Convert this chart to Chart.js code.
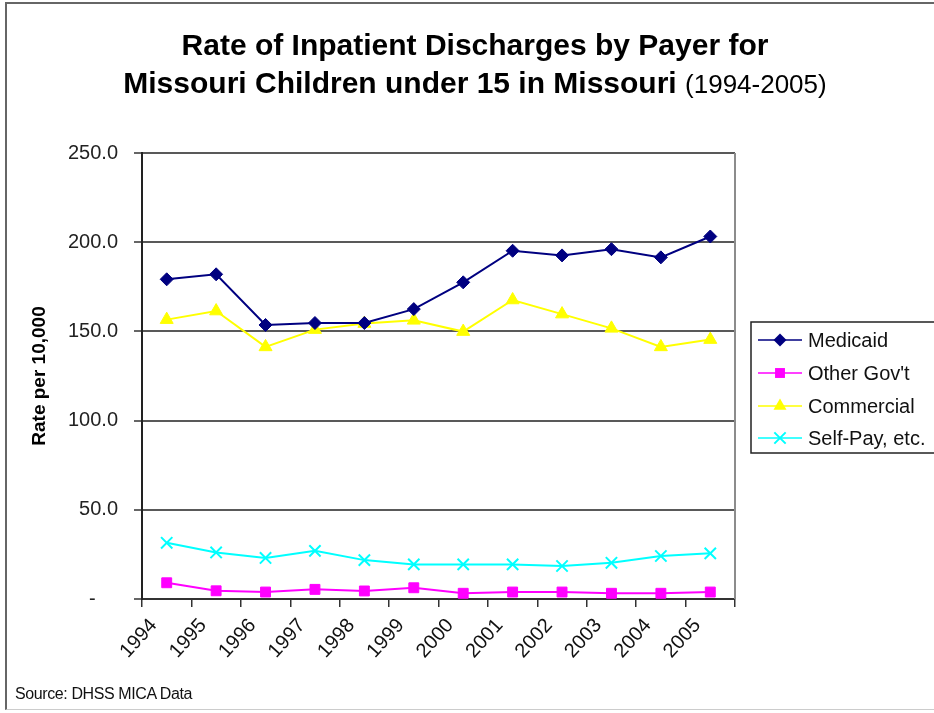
<!DOCTYPE html>
<html>
<head>
<meta charset="utf-8">
<script src="https://cdn.jsdelivr.net/npm/chart.js@4.4.0/dist/chart.umd.min.js"></script>
<style>
  html, body { margin: 0; padding: 0; background: #fff; }
  body { width: 934px; height: 713px; position: relative; overflow: hidden; font-family: "Liberation Sans", Arial, sans-serif; }
  #frame { position: absolute; left: 5px; top: 2px; width: 960px; height: 708px; border-left: 2px solid #666; border-top: 2px solid #666; border-bottom: 1px solid #ccc; box-sizing: border-box; }
  #title { position: absolute; left: 0; top: 26px; width: 950px; text-align: center; color: #000; font-weight: bold; font-size: 30px; line-height: 38px; }
  #title .sub { font-weight: normal; font-size: 26px; }
  #source { position: absolute; left: 15px; top: 685px; font-size: 16px; color: #111; letter-spacing: -0.4px; }
  #wrap { position: absolute; left: 0; top: 0; width: 934px; height: 713px; }
</style>
</head>
<body>
<div id="frame"></div>
<div id="wrap"><canvas id="c" width="934" height="713"></canvas></div>
<div id="title">Rate of Inpatient Discharges by Payer for<br>Missouri Children under 15 in Missouri <span class="sub">(1994-2005)</span></div>
<div id="source">Source: DHSS MICA Data</div>
<script>
const years = ['1994','1995','1996','1997','1998','1999','2000','2001','2002','2003','2004','2005'];
const medicaid   = [179.2, 182.0, 153.6, 154.7, 154.7, 162.5, 177.5, 195.2, 192.6, 196.1, 191.5, 203.2];
const otherGovt  = [9.1, 4.6, 3.9, 5.4, 4.5, 6.3, 3.2, 3.9, 3.9, 3.2, 3.2, 3.9];
const commercial = [156.6, 161.4, 141.3, 151.0, 154.4, 156.2, 149.9, 167.6, 159.7, 151.7, 141.3, 145.4];
const selfPay    = [31.5, 26.1, 23.0, 27.0, 21.8, 19.4, 19.4, 19.4, 18.5, 20.3, 24.1, 25.6];
const seriesNames = ['Medicaid', 'Other Gov\'t', 'Commercial', 'Self-Pay, etc.'];
const yTickLabels = ['-    ', '50.0', '100.0', '150.0', '200.0', '250.0'];
const yAxisTitle = 'Rate per 10,000';

const FONT = '"Liberation Sans", Arial, sans-serif';

function drawMarker(ctx, style, x, y, r, color) {
  ctx.save();
  ctx.fillStyle = color; ctx.strokeStyle = color; ctx.lineWidth = 2;
  ctx.beginPath();
  if (style === 'rectRot') {
    ctx.moveTo(x, y - r); ctx.lineTo(x + r, y); ctx.lineTo(x, y + r); ctx.lineTo(x - r, y); ctx.closePath(); ctx.fill();
  } else if (style === 'rect') {
    const s = r * Math.SQRT1_2; ctx.rect(x - s, y - s, 2 * s, 2 * s); ctx.fill();
  } else if (style === 'triangle') {
    ctx.moveTo(x, y - r); ctx.lineTo(x + r * 0.866, y + r * 0.5); ctx.lineTo(x - r * 0.866, y + r * 0.5); ctx.closePath(); ctx.fill();
  } else if (style === 'crossRot') {
    const d = r * Math.SQRT1_2;
    ctx.moveTo(x - d, y - d); ctx.lineTo(x + d, y + d); ctx.moveTo(x + d, y - d); ctx.lineTo(x - d, y + d); ctx.stroke();
  }
  ctx.restore();
}

const framePlugin = {
  id: 'framePlugin',
  afterDraw(chart) {
    const ctx = chart.ctx, a = chart.chartArea;
    ctx.save();
    ctx.strokeStyle = '#8c8c8c'; ctx.lineWidth = 2;
    ctx.beginPath(); ctx.moveTo(a.right, a.top); ctx.lineTo(a.right, a.bottom); ctx.stroke();
    const lx = 751, ly = 322, lw = 190, lh = 131;
    ctx.fillStyle = '#fff'; ctx.fillRect(lx, ly, lw, lh);
    ctx.strokeStyle = '#222'; ctx.lineWidth = 1.5;
    ctx.strokeRect(lx, ly, lw, lh);
    ctx.font = '20px ' + FONT; ctx.textBaseline = 'middle'; ctx.textAlign = 'left';
    const rowY = [340, 373, 406, 438];
    chart.data.datasets.forEach((ds, i) => {
      const y = rowY[i];
      ctx.strokeStyle = ds.borderColor; ctx.lineWidth = 1.5;
      ctx.beginPath(); ctx.moveTo(758, y); ctx.lineTo(802, y); ctx.stroke();
      drawMarker(ctx, ds.pointStyle, 780, y, ds.pointRadius, ds.pointBackgroundColor);
      ctx.fillStyle = '#111';
      ctx.fillText(ds.label, 808, y + 1);
    });
    ctx.restore();
  }
};

function mk(label, data, color, style, radius) {
  return {
    label, data,
    borderColor: color, backgroundColor: color,
    pointBackgroundColor: color, pointBorderColor: color,
    pointStyle: style, pointRadius: radius, pointHoverRadius: radius,
    pointBorderWidth: style === 'crossRot' ? 2 : 1,
    borderWidth: 2, tension: 0, fill: false
  };
}

new Chart(document.getElementById('c'), {
  type: 'line',
  data: {
    labels: years,
    datasets: [
      mk(seriesNames[0], medicaid, '#000080', 'rectRot', 6.5),
      mk(seriesNames[1], otherGovt, '#FF00FF', 'rect', 7),
      mk(seriesNames[2], commercial, '#FFFF00', 'triangle', 7.5),
      mk(seriesNames[3], selfPay, '#00FFFF', 'crossRot', 8)
    ]
  },
  options: {
    responsive: false,
    animation: false,
    devicePixelRatio: 1,
    layout: { padding: { left: 24, top: 153, right: 199, bottom: 0 } },
    plugins: { legend: { display: false }, tooltip: { enabled: false }, title: { display: false } },
    scales: {
      x: {
        type: 'category',
        offset: true,
        grid: { offset: true, drawOnChartArea: false, drawTicks: true, tickLength: 8, color: '#333', lineWidth: 1.5 },
        border: { display: true, color: '#333', width: 2 },
        ticks: { maxRotation: 48, minRotation: 48, autoSkip: false, padding: 7, labelOffset: -13, color: '#111', font: { family: FONT, size: 20 } },
        afterFit(scale) { scale.height = 114; }
      },
      y: {
        min: 0, max: 250,
        ticks: { stepSize: 50, padding: 16, color: '#222', font: { family: FONT, size: 20 },
                 callback: (v, i) => yTickLabels[i] },
        grid: { color: '#595959', lineWidth: 2, tickLength: 8, tickColor: '#333', tickWidth: 1.5 },
        border: { display: true, color: '#222', width: 2 },
        title: { display: true, text: yAxisTitle, color: '#000', font: { family: FONT, size: 19, weight: 'bold' }, padding: { top: 4, bottom: 4 } },
        afterFit(scale) { scale.width = 118; }
      }
    }
  },
  plugins: [framePlugin]
});
</script>
</body>
</html>
